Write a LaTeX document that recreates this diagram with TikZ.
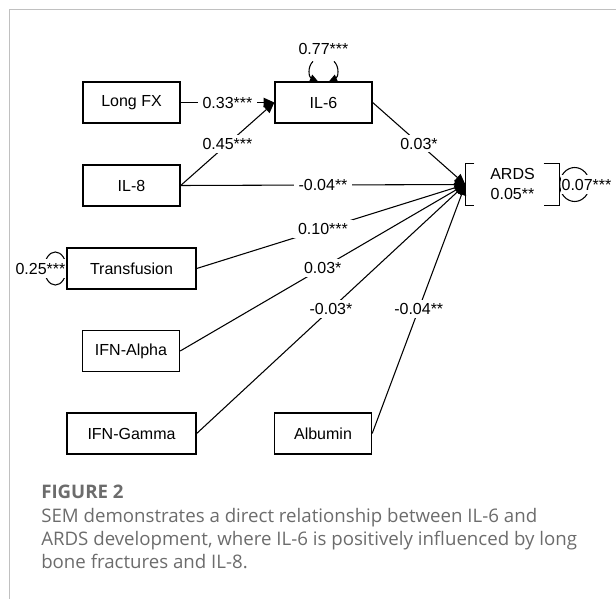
\documentclass[tikz,border=0pt]{standalone}
\usepackage{fontspec}
\setmainfont{Liberation Sans}
\newfontfamily\capfont{Open Sans}
\usetikzlibrary{arrows.meta,calc}
\definecolor{framegray}{RGB}{192,192,192}
\definecolor{capgray}{RGB}{108,108,108}
\begin{document}
\begin{tikzpicture}[x=0.75pt,y=-0.75pt,
  var/.style={draw, line width=1pt, minimum width=72.75pt, minimum height=30.75pt, inner sep=0pt, font=\fontsize{12}{14}\selectfont},
  widevar/.style={var, minimum width=96.75pt},
  coef/.style={fill=white, inner xsep=3.5pt, inner ysep=2.5pt, font=\fontsize{12}{14}\selectfont},
  varlab/.style={coef, inner xsep=0.5pt, inner ysep=3pt},
  regpath/.style={line width=0.8pt, -{Triangle[length=8pt,width=7pt]}},
  resid/.style={line width=0.8pt},
  capline/.style={anchor=base west, inner sep=0pt, text=capgray, font=\capfont\fontsize{14}{16}\selectfont}]
\useasboundingbox (0,0) rectangle (616,599);
\draw[framegray, line width=0.8pt] (616,9.5) -- (9.5,9.5) -- (9.5,599);

\node[var] (lfx) at (131.5,102.5) {Long FX};
\node[var] (il6) at (323.5,102.5) {IL-6};
\node[var] (il8) at (131.5,185.5) {IL-8};
\node[widevar] (tr) at (131.5,268.5) {Transfusion};
\node[var] (ifa) at (131,351) {IFN-Alpha};
\node[widevar] (ifg) at (131.5,433.5) {IFN-Gamma};
\node[var] (alb) at (323,433.5) {Albumin};
\node[var, draw=none, minimum width=69.75pt] (ards) at (512.5,184.5) {};
\node[coef, fill=none, inner sep=0pt] (ardsname) at (512.5,173.5) {ARDS};
\node[coef, fill=none, inner sep=0pt] (ardsr2) at (512.5,193.5) {0.05**};
\draw[line width=1pt] ($(ards.north west)+(9,0)$) -- (ards.north west) -- (ards.south west) -- ++(9,0);
\draw[line width=1pt] ($(ards.north east)+(-16,0)$) -- (ards.north east) -- (ards.south east) -- ++(-16,0);

\draw[regpath] (lfx) -- node[coef]{0.33***} (il6);
\draw[regpath] (il8.east) -- node[coef]{0.45***} (il6.west);
\draw[regpath] (il6.east) -- node[coef]{0.03*} (ards.west);
\draw[regpath] (il8.east) -- node[coef]{-0.04**} (ards.west);
\draw[regpath] (tr.east) -- node[coef,pos=0.47]{0.10***} (ards.west);
\draw[regpath] (ifa.east) -- node[coef]{0.03*} (ards.west);
\draw[regpath] (ifg.east) -- node[coef]{-0.03*} (ards.west);
\draw[regpath] (alb.east) -- node[coef]{-0.04**} (ards.west);

% residual variances
\draw[resid, -{Triangle[length=6pt,width=5.5pt]}] ($(il6.north)+(-10.5,-20)$) .. controls ($(il6.north)+(-16.5,-14)$) and ($(il6.north)+(-14.5,-4)$) .. ($(il6.north)+(-5.5,0)$);
\draw[resid, -{Triangle[length=6pt,width=5.5pt]}] ($(il6.north)+(10.5,-20)$) .. controls ($(il6.north)+(16.5,-14)$) and ($(il6.north)+(14.5,-4)$) .. ($(il6.north)+(5.5,0)$);
\node[coef] (il6var) at ($(il6.north)+(0,-32)$) {0.77***};

\draw[resid] ($(tr.west)+(-11,0)$) ellipse [x radius=8.25pt, y radius=12.4pt];
\node[varlab, anchor=east] (trvar) at (tr.west) {0.25***};

\draw[resid] ($(ards.east)+(15,0)$) ellipse [x radius=11.25pt, y radius=12.75pt];
\node[varlab, anchor=west] (ardsvar) at ($(ards.east)+(1,0)$) {0.07***};

% caption
\node[capline, font=\capfont\bfseries\fontsize{14}{16}\selectfont] (figlab) at (41,498.5) {FIGURE 2};
\node[capline] (cap1) at (41,522.5) {SEM demonstrates a direct relationship between IL-6 and};
\node[capline] (cap2) at (41,545.5) {ARDS development, where IL-6 is positively influenced by long};
\node[capline] (cap3) at (41,568.5) {bone fractures and IL-8.};
\end{tikzpicture}
\end{document}
